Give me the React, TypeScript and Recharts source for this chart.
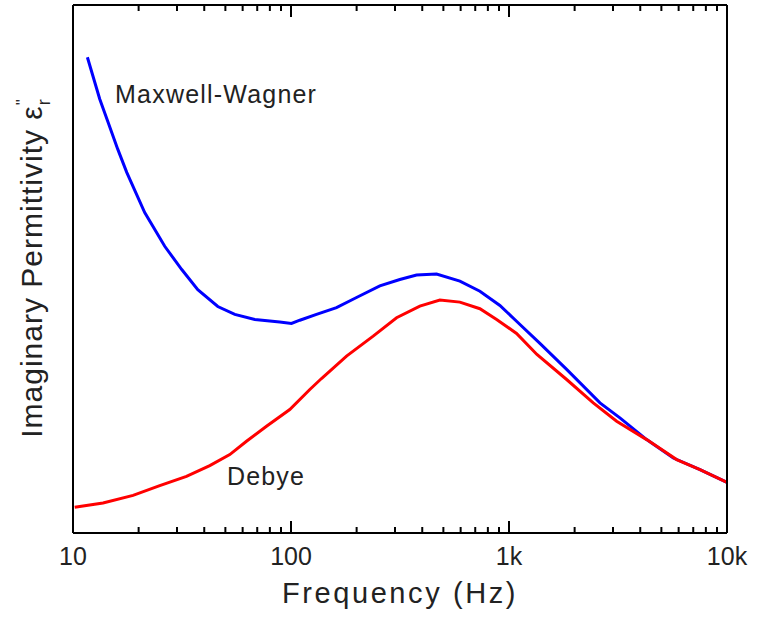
import {
  ComposedChart,
  Line,
  Scatter,
  XAxis,
  YAxis,
  ReferenceDot,
  ReferenceLine,
} from "recharts";

// frequency (Hz) / imaginary permittivity (arbitrary units, 0..100)
const mwFreq = [11.64, 13.26, 14.43, 16.04, 17.64, 21.33, 26.35, 31.54, 37.36, 46.15, 55.23, 68.24, 88.8, 100.5, 109.8, 130.9, 161.7, 199.8, 255.6, 315.7, 376.6, 465.3, 595.2, 735.4, 908.2, 1083, 1386, 1838, 2614, 3227, 4280, 5670, 7518, 10000];
const mwValues = [90.1, 82.2, 78.0, 72.7, 68.3, 60.7, 54.3, 49.9, 46.1, 42.9, 41.4, 40.45, 39.95, 39.7, 40.3, 41.4, 42.7, 44.6, 46.8, 48.0, 48.85, 49.05, 47.7, 45.8, 43.1, 40.1, 35.9, 31.0, 24.65, 21.8, 17.7, 14.2, 12.0, 9.6];

const debyeFreq = [10.18, 13.73, 18.86, 25.0, 33.15, 42.4, 52.38, 62.5, 77.2, 98.7, 122.0, 138.0, 179.8, 238.2, 305.0, 390.0, 481.8, 595.2, 735.4, 877.5, 1083, 1343, 1838, 2435, 3117, 4280, 5875, 7518, 10000];
const debyeValues = [4.86, 5.69, 7.13, 8.97, 10.73, 12.76, 14.85, 17.37, 20.22, 23.38, 27.18, 29.26, 33.49, 37.28, 40.77, 42.97, 44.11, 43.73, 42.48, 40.45, 37.8, 33.81, 29.07, 24.65, 21.16, 17.69, 13.9, 12.0, 9.6];

const majorTicks = [10, 100, 1000, 10000];
const majorLabels = ["10", "100", "1k", "10k"];
const minorTicks = [20, 30, 40, 50, 60, 70, 80, 90, 200, 300, 400, 500, 600, 700, 800, 900, 2000, 3000, 4000, 5000, 6000, 7000, 8000, 9000];

const annotations = [
  { text: "Maxwell-Wagner", f: 15.6, v: 81.4 },
  { text: "Debye", f: 50.8, v: 9.0 },
];

const FONT = "'Liberation Sans', Arial, sans-serif";
const INK = "#222";

const W = 759;
const H = 622;
const MARGIN = { top: 5, right: 31, left: 72, bottom: 0 };
const X_AXIS_H = 89;
const PLOT_BOTTOM = H - X_AXIS_H;
const Y_MAX = 100;

const mwData = mwFreq.map((f, i) => ({ f, v: mwValues[i] }));
const debyeData = debyeFreq.map((f, i) => ({ f, v: debyeValues[i] }));
const allTicks = [...majorTicks, ...minorTicks].sort((a, b) => a - b);

// anchor points for the inward tick marks on the bottom and top edges
const bottomTickMarks = allTicks.map((f) => ({ f, v: 0 }));
const topTickMarks = allTicks.map((f) => ({ f, v: Y_MAX }));

function tickShape(dir: number) {
  return (props: any) => {
    const { cx, cy, payload } = props;
    const len = majorTicks.includes(payload.f) ? 12 : 6;
    return <path d={`M${cx},${cy}V${cy + dir * len}`} stroke="#000" strokeWidth={2} fill="none" />;
  };
}

function BottomTick(props: any) {
  const { x, payload } = props;
  const idx = majorTicks.indexOf(payload.value);
  if (idx < 0) return <g />;
  return (
    <text x={x} y={PLOT_BOTTOM + 32} textAnchor="middle" fontSize={25} fill={INK} fontFamily={FONT}>
      {majorLabels[idx]}
    </text>
  );
}

function NoteLabel({ viewBox, value }: any) {
  return (
    <text x={viewBox.x} y={viewBox.y} fontSize={25} letterSpacing={1.2} fill={INK} fontFamily={FONT}>
      {value}
    </text>
  );
}

function XTitle({ viewBox }: any) {
  const cx = viewBox.x + viewBox.width / 2;
  return (
    <text x={cx} y={603} textAnchor="middle" fontSize={29} letterSpacing={2.6} fill={INK} fontFamily={FONT}>
      Frequency (Hz)
    </text>
  );
}

function YTitle() {
  return (
    <text
      x={42}
      y={268}
      transform="rotate(-90, 42, 268)"
      textAnchor="middle"
      fontSize={30}
      letterSpacing={1}
      fill={INK}
      fontFamily={FONT}
    >
      Imaginary Permittivity ε
      <tspan fontSize={17} dy={-14}>"</tspan>
      <tspan fontSize={18} dx={-7} dy={22}>r</tspan>
    </text>
  );
}

export default function App() {
  return (
    <div style={{ position: "absolute", left: 0, top: 0, width: W, height: H, background: "#fff" }}>
      <ComposedChart width={W} height={H} margin={MARGIN}>
        <XAxis
          dataKey="f"
          type="number"
          scale="log"
          domain={[10, 10000]}
          ticks={allTicks}
          interval={0}
          height={X_AXIS_H}
          tickLine={false}
          tick={BottomTick}
          axisLine={{ stroke: "#000", strokeWidth: 2 }}
          label={<XTitle />}
        />
        <YAxis
          type="number"
          dataKey="v"
          domain={[0, Y_MAX]}
          width={1}
          tick={false}
          tickLine={false}
          axisLine={{ stroke: "#000", strokeWidth: 2 }}
          label={<YTitle />}
        />
        <YAxis
          yAxisId="right"
          orientation="right"
          type="number"
          domain={[0, Y_MAX]}
          width={1}
          tick={false}
          tickLine={false}
          axisLine={{ stroke: "#000", strokeWidth: 2 }}
        />
        <ReferenceLine y={Y_MAX} stroke="#000" strokeWidth={2} ifOverflow="visible" />
        <Scatter
          data={bottomTickMarks}
          dataKey="v"
          shape={tickShape(-1)}
          isAnimationActive={false}
        />
        <Scatter
          data={topTickMarks}
          dataKey="v"
          shape={tickShape(1)}
          isAnimationActive={false}
        />
        <Line
          data={mwData}
          dataKey="v"
          type="linear"
          stroke="#0000ff"
          strokeWidth={3}
          dot={false}
          isAnimationActive={false}
        />
        <Line
          data={debyeData}
          dataKey="v"
          type="linear"
          stroke="#ff0000"
          strokeWidth={3}
          dot={false}
          isAnimationActive={false}
        />
        {annotations.map((a) => (
          <ReferenceDot
            key={a.text}
            x={a.f}
            y={a.v}
            r={0}
            fill="none"
            stroke="none"
            ifOverflow="visible"
            label={<NoteLabel value={a.text} />}
          />
        ))}
      </ComposedChart>
    </div>
  );
}
